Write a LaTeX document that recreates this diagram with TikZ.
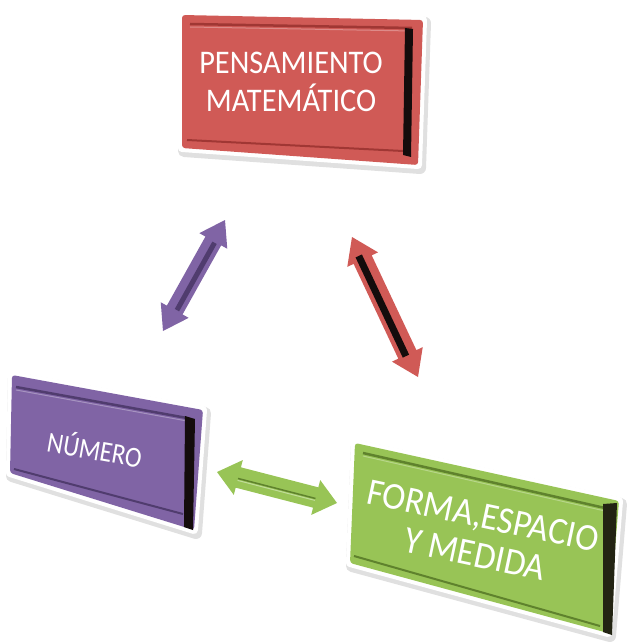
\documentclass[tikz,border=0pt]{standalone}
\usepackage{fontspec}
\setmainfont{Carlito}
\usetikzlibrary{calc}
\definecolor{redface}{RGB}{208,90,86}
\definecolor{reddark}{RGB}{160,55,52}
\definecolor{purface}{RGB}{128,100,165}
\definecolor{purdark}{RGB}{80,60,110}
\definecolor{grnface}{RGB}{152,196,86}
\definecolor{grndark}{RGB}{95,130,45}
\definecolor{strip}{RGB}{20,12,12}
\newcommand\dblarrow[6]{%
  \fill[#6] (#1) -- ($(#1)!#3!(#2)!#4!90:(#2)$) -- ($(#1)!#3!(#2)!#5!90:(#2)$)
   -- ($(#2)!#3!(#1)!#5!-90:(#1)$) -- ($(#2)!#3!(#1)!#4!-90:(#1)$) -- (#2)
   -- ($(#2)!#3!(#1)!#4!90:(#1)$) -- ($(#2)!#3!(#1)!#5!90:(#1)$)
   -- ($(#1)!#3!(#2)!#5!-90:(#2)$) -- ($(#1)!#3!(#2)!#4!-90:(#2)$) -- cycle;}
\tikzset{
  shadowline/.style={draw=black!12, line width=12pt, line join=round},
  whiteline/.style={draw=white, line width=8pt, line join=round},
  boxface/.style={rounded corners=3pt},
  boxtext/.style={text=white, align=center, inner sep=0pt},
}
\begin{document}
\begin{tikzpicture}[x=1pt,y=1pt]
\useasboundingbox (0,0) rectangle (627,-644);
% ---------- red box ----------
\coordinate (r1) at (182,-15); \coordinate (r2) at (423,-20);
\coordinate (r3) at (418,-165); \coordinate (r4) at (182,-148);
\path[shadowline] ([shift={(2,-3)}]r1) -- ([shift={(2,-3)}]r2) -- ([shift={(2,-3)}]r3) -- ([shift={(2,-3)}]r4) -- cycle;
\path[whiteline] (r1) -- (r2) -- (r3) -- (r4) -- cycle;
\fill[redface, boxface] (r1) -- (r2) -- (r3) -- (r4) -- cycle;
\draw[reddark, line width=2.5pt] (190,-24) -- (412,-28);
\draw[redface!70!white, line width=1pt] (190,-27) -- (412,-31);
\draw[reddark, line width=2pt] (187,-140) -- (403,-151);
\fill[strip] (405,-28) -- (413,-29) -- (411,-157) -- (403,-155) -- cycle;
\node[boxtext, xscale=0.92, font=\fontsize{33}{38}\selectfont] (pens) at (291,-82) {PENSAMIENTO\\MATEMÁTICO};
% ---------- purple box ----------
\coordinate (p1) at (12,-375); \coordinate (p2) at (203,-410);
\coordinate (p3) at (194,-530); \coordinate (p4) at (10,-473);
\path[shadowline] ([shift={(2,-3)}]p1) -- ([shift={(2,-3)}]p2) -- ([shift={(2,-3)}]p3) -- ([shift={(2,-3)}]p4) -- cycle;
\path[whiteline] (p1) -- (p2) -- (p3) -- (p4) -- cycle;
\fill[purface, boxface] (p1) -- (p2) -- (p3) -- (p4) -- cycle;
\draw[purdark, line width=2.5pt] (16,-387) -- (187,-418);
\draw[purface!70!white, line width=1pt] (16,-390) -- (187,-421);
\draw[purdark, line width=2pt] (14,-469) -- (183,-514);
\fill[strip] (185,-416) -- (195,-419) -- (193,-530) -- (184,-527) -- cycle;
\node[boxtext, rotate=-10, xscale=0.86, font=\fontsize{29}{34}\selectfont] (num) at (95,-448) {NÚMERO};
% ---------- green box ----------
\coordinate (g1) at (355,-443); \coordinate (g2) at (619,-501);
\coordinate (g3) at (608,-633); \coordinate (g4) at (350,-563);
\path[shadowline] ([shift={(2,-3)}]g1) -- ([shift={(2,-3)}]g2) -- ([shift={(2,-3)}]g3) -- ([shift={(2,-3)}]g4) -- cycle;
\path[whiteline] (g1) -- (g2) -- (g3) -- (g4) -- cycle;
\fill[grnface, boxface] (g1) -- (g2) -- (g3) -- (g4) -- cycle;
\draw[grndark, line width=2.5pt] (363,-453) -- (605,-508);
\draw[grnface!70!white, line width=1pt] (363,-456) -- (605,-511);
\draw[grndark, line width=2pt] (354,-556) -- (600,-626);
\fill[strip!80!grndark] (603,-504) -- (617,-503) -- (612,-635) -- (603,-632) -- cycle;
\node[boxtext, rotate=-12, xscale=0.92, font=\fontsize{38}{39}\selectfont] (forma) at (479,-535) {FORMA,ESPACIO\\Y MEDIDA};
% ---------- arrows ----------
\coordinate (pa) at (225,-220); \coordinate (pb) at (163,-331);
\dblarrow{pa}{pb}{24pt}{16pt}{9pt}{purface}
\draw[purdark, line width=5pt] ($(pa)!25pt!(pb)!2pt!90:(pb)$) -- ($(pb)!25pt!(pa)!2pt!-90:(pa)$);
\coordinate (ra) at (352,-237); \coordinate (rb) at (418,-377);
\dblarrow{ra}{rb}{25pt}{17pt}{10pt}{redface}
\draw[strip, line width=7pt] ($(ra)!20pt!(rb)!2pt!-90:(rb)$) -- ($(rb)!24pt!(ra)!2pt!90:(ra)$);
\coordinate (ga) at (217,-472); \coordinate (gb) at (337,-503);
\dblarrow{ga}{gb}{22pt}{18pt}{10.5pt}{grnface}
\draw[grndark, line width=1.5pt] ($(ga)!22pt!(gb)!1pt!-90:(gb)$) -- ($(gb)!22pt!(ga)!1pt!90:(ga)$);
\draw[grnface!60!white, line width=1pt] ($(ga)!22pt!(gb)!3pt!-90:(gb)$) -- ($(gb)!22pt!(ga)!3pt!90:(ga)$);
\end{tikzpicture}
\end{document}
